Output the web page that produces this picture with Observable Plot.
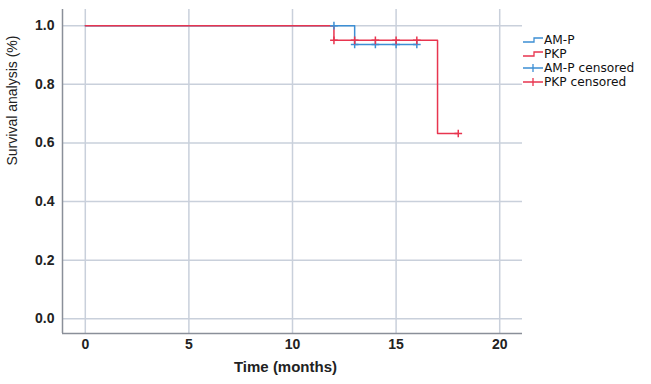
<!DOCTYPE html>
<html>
<head>
<meta charset="utf-8">
<script src="https://cdn.jsdelivr.net/npm/d3@7"></script>
<script src="https://cdn.jsdelivr.net/npm/@observablehq/plot@0.6"></script>
<style>
  body { margin: 0; background: #fff; font-family: "Liberation Sans", Arial, sans-serif; }
  #wrap { position: relative; width: 651px; height: 384px; }
  .leg { position: absolute; left: 522px; height: 14px; display: flex; align-items: center; font-family: "DejaVu Sans", sans-serif; font-size: 12.2px; color: #111; white-space: nowrap; line-height: 14px; }
  .leg svg { flex: none; }
</style>
</head>
<body>
<div id="wrap"></div>
<script>
const groups = ["AM-P", "PKP"];
const colors = ["#3d8fd4", "#e8354f"];
// step curve points (time, survival)
const amTimes = [0, 13, 16];
const amSurv = [1.0, 0.936, 0.936];
const pkTimes = [0, 12, 17, 18];
const pkSurv = [1.0, 0.95, 0.632, 0.632];
// censored observations
const amCensTimes = [12, 13, 14, 15, 16];
const amCensSurv = [1.0, 0.936, 0.936, 0.936, 0.936];
const pkCensTimes = [12, 13, 14, 15, 16, 18];
const pkCensSurv = [0.95, 0.95, 0.95, 0.95, 0.95, 0.632];
const xTicks = [0, 5, 10, 15, 20];
const yTicks = [0, 0.2, 0.4, 0.6, 0.8, 1.0];
const legendLabels = ["AM-P", "PKP", "AM-P censored", "PKP censored"];

const curve = (g, ts, ss) => ts.map((t, i) => ({group: g, time: t, surv: ss[i]}));
const lines = [...curve("AM-P", amTimes, amSurv), ...curve("PKP", pkTimes, pkSurv)];
const cens = [...curve("AM-P", amCensTimes, amCensSurv), ...curve("PKP", pkCensTimes, pkCensSurv)];

const plot = Plot.plot({
  width: 651, height: 384,
  marginLeft: 62, marginRight: 129, marginTop: 9, marginBottom: 51,
  style: {fontFamily: "Liberation Sans, Arial, sans-serif", fontSize: "14px", color: "#222"},
  x: {domain: [-1.1, 21.1]},
  y: {domain: [-0.05, 1.055]},
  color: {domain: groups, range: colors},
  marks: [
    Plot.gridX(xTicks, {stroke: "#c9d0db", strokeOpacity: 1, strokeWidth: 1.5}),
    Plot.gridY(yTicks, {stroke: "#c9d0db", strokeOpacity: 1, strokeWidth: 1.5}),
    Plot.ruleX([-1.1], {stroke: "#8a8f99", strokeWidth: 1.5}),
    Plot.ruleY([-0.05], {stroke: "#8a8f99", strokeWidth: 1.5}),
    Plot.line(lines, {x: "time", y: "surv", z: "group", stroke: "group", curve: "step-after", strokeWidth: 1.5}),
    Plot.dot(cens, {x: "time", y: "surv", stroke: "group", symbol: "plus", r: 2.6, strokeWidth: 1.5}),
    Plot.axisX({ticks: xTicks, tickSize: 0, tickPadding: 6, fontWeight: "bold", fontSize: 14, label: null}),
    Plot.axisY({ticks: yTicks, tickSize: 0, tickPadding: 8, tickFormat: d3.format(".1f"), fontWeight: "bold", fontSize: 14, label: null}),
    Plot.text(["Time (months)"], {frameAnchor: "bottom", dx: -7, dy: 38, fontSize: 15, fontWeight: "bold", fill: "#222"}),
    Plot.text(["Survival analysis (%)"], {frameAnchor: "left", dx: -50, dy: -6, rotate: -90, fontSize: 14, fill: "#222"})
  ]
});
const wrap = document.getElementById("wrap");
wrap.prepend(plot);

const legendKinds = ["step", "step", "plus", "plus"];
const legendColors = [colors[0], colors[1], colors[0], colors[1]];
const legendTops = [33, 47, 61, 75];
legendLabels.forEach((label, i) => {
  const d = document.createElement("div");
  d.className = "leg";
  d.style.top = legendTops[i] + "px";
  const c = legendColors[i];
  const sw = legendKinds[i] === "step"
    ? `<svg width="22" height="14"><path d="M1,9H12V5H21" fill="none" stroke="${c}" stroke-width="1.3"/></svg>`
    : `<svg width="22" height="14"><path d="M1,7H21M11,3V11" fill="none" stroke="${c}" stroke-width="1.3"/></svg>`;
  d.innerHTML = sw + `<span>${label}</span>`;
  wrap.appendChild(d);
});
</script>
</body>
</html>
